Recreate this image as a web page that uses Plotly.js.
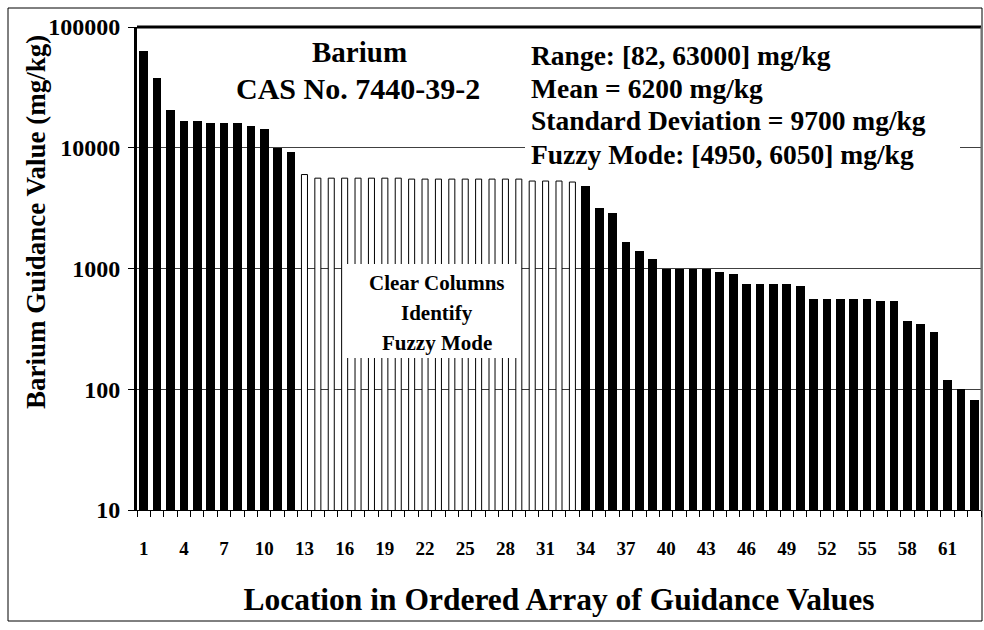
<!DOCTYPE html>
<html><head><meta charset="utf-8">
<script src="https://cdn.plot.ly/plotly-3.0.1.min.js"></script>
<style>html,body{margin:0;padding:0;background:#fff}#chart{width:984px;height:630px}</style>
</head><body><div id="chart"></div>
<script>
// ---- data ----
const locations = [1,2,3,4,5,6,7,8,9,10,11,12,13,14,15,16,17,18,19,20,21,22,23,24,25,26,27,28,29,30,31,32,33,34,35,36,37,38,39,40,41,42,43,44,45,46,47,48,49,50,51,52,53,54,55,56,57,58,59,60,61,62,63];
const guidanceValues = [63000,38000,20500,16500,16500,16000,16000,16000,15000,14400,10000,9300,
  6000,5600,5600,5600,5600,5600,5600,5600,5500,5500,5500,5500,5500,5500,5500,5500,5500,5300,5300,5300,5200,
  4800,3200,2900,1650,1400,1200,1000,1000,1000,1000,940,900,750,750,750,750,710,560,560,560,560,560,540,540,370,350,300,120,100,82];
const fuzzyModeLocations = [13,14,15,16,17,18,19,20,21,22,23,24,25,26,27,28,29,30,31,32,33];
const xTickVals = [1,4,7,10,13,16,19,22,25,28,31,34,37,40,43,46,49,52,55,58,61];
const xTickText = ['1','4','7','10','13','16','19','22','25','28','31','34','37','40','43','46','49','52','55','58','61'];
const yTickVals = [10,100,1000,10000,100000];
const yTickText = ['10','100','1000','10000','100000'];
const boundaryTicks = [0.5,1.5,2.5,3.5,4.5,5.5,6.5,7.5,8.5,9.5,10.5,11.5,12.5,13.5,14.5,15.5,16.5,17.5,18.5,19.5,20.5,21.5,22.5,23.5,24.5,25.5,26.5,27.5,28.5,29.5,30.5,31.5,32.5,33.5,34.5,35.5,36.5,37.5,38.5,39.5,40.5,41.5,42.5,43.5,44.5,45.5,46.5,47.5,48.5,49.5,50.5,51.5,52.5,53.5,54.5,55.5,56.5,57.5,58.5,59.5,60.5,61.5,62.5,63.5];
const statLines = ['Range: [82, 63000] mg/kg','Mean = 6200 mg/kg','Standard Deviation = 9700 mg/kg','Fuzzy Mode: [4950, 6050] mg/kg'];
const noteLines = ['Clear Columns','Identify','Fuzzy Mode'];

// ---- build ----
const FONT = 'Liberation Serif, Times New Roman, serif';
const W = 984, H = 630, L = 137, R = 3, T = 27, B = 120;
const pw = W - L - R, ph = H - T - B;
const px = x => (x - L) / pw;
const py = y => (H - B - y) / ph;

const solidX = [], solidY = [], clearX = [], clearY = [];
locations.forEach((loc, i) => {
  if (fuzzyModeLocations.includes(loc)) { clearX.push(loc); clearY.push(guidanceValues[i]); }
  else { solidX.push(loc); solidY.push(guidanceValues[i]); }
});

const traces = [
  {type:'bar', x:solidX, y:solidY, width:0.65, marker:{color:'#000', line:{width:0}}, hoverinfo:'x+y', showlegend:false},
  {type:'bar', x:clearX, y:clearY, width:0.45, marker:{color:'#fff', line:{color:'#000', width:1}}, hoverinfo:'x+y', showlegend:false},
  {type:'scatter', x:[0.5,63.5], y:[null,null], xaxis:'x2', yaxis:'y', showlegend:false, hoverinfo:'skip'}
];

const annotations = [];
annotations.push({xref:'paper', yref:'paper', x:px(359), y:py(52), text:'Barium', showarrow:false, xanchor:'center', yanchor:'middle', font:{family:FONT, size:29, color:'#000', weight:'bold'}});
annotations.push({xref:'paper', yref:'paper', x:px(358), y:py(88), text:'CAS No. 7440-39-2', showarrow:false, xanchor:'center', yanchor:'middle', font:{family:FONT, size:30, color:'#000', weight:'bold'}});
const statY = [55, 88, 121, 154];
statLines.forEach((t, i) => annotations.push({xref:'paper', yref:'paper', x:px(529), y:py(statY[i]), text:t, showarrow:false, xanchor:'left', yanchor:'middle', font:{family:FONT, size:27.5, color:'#000', weight:'bold'}}));
const noteY = [283, 313, 343];
noteLines.forEach((t, i) => annotations.push({xref:'paper', yref:'paper', x:px(437), y:py(noteY[i]), text:t, showarrow:false, xanchor:'center', yanchor:'middle', font:{family:FONT, size:21, color:'#000', weight:'bold'}}));
annotations.push({xref:'paper', yref:'paper', x:px(36), y:py(222), text:'Barium Guidance Value (mg/kg)', textangle:-90, showarrow:false, xanchor:'center', yanchor:'middle', font:{family:FONT, size:27, color:'#000', weight:'bold'}});

const shapes = [
  {type:'rect', xref:'paper', yref:'paper', x0:px(8), x1:px(982), y0:py(621), y1:py(8), line:{color:'#000', width:1}, fillcolor:'rgba(0,0,0,0)', layer:'below'},
  {type:'rect', xref:'paper', yref:'paper', x0:px(525), x1:px(960), y0:py(172), y1:py(33), line:{width:0}, fillcolor:'#fff', layer:'above'},
  {type:'rect', xref:'paper', yref:'paper', x0:px(347), x1:px(521), y0:py(358), y1:py(264), line:{width:0}, fillcolor:'#fff', layer:'above'},
  {type:'line', xref:'paper', yref:'paper', x0:0, x1:1, y0:1, y1:1, line:{color:'#000', width:3}, layer:'above'},
  {type:'line', xref:'paper', yref:'paper', x0:1, x1:1, y0:0, y1:1, line:{color:'#666', width:1}, layer:'above'}
];

const layout = {
  width:W, height:H, margin:{l:L, r:R, t:T, b:B}, paper_bgcolor:'#fff', plot_bgcolor:'#fff',
  bargap:0, showlegend:false,
  xaxis:{range:[0.5,63.5], tickvals:xTickVals, ticktext:xTickText, ticks:'', showgrid:false, zeroline:false,
    showline:true, linecolor:'#000', linewidth:1, ticklabelstandoff:21,
    tickfont:{family:FONT, size:19, color:'#000', weight:'bold'},
    title:{text:'Location in Ordered Array of Guidance Values', standoff:30, font:{family:FONT, size:31.5, color:'#000', weight:'bold'}}},
  xaxis2:{range:[0.5,63.5], overlaying:'x', anchor:'y', side:'bottom', tickvals:boundaryTicks, ticks:'outside', ticklen:6, tickwidth:1, tickcolor:'#000', showticklabels:false, showgrid:false, zeroline:false, showline:false},
  yaxis:{type:'log', range:[1,5], tickvals:yTickVals, ticktext:yTickText, ticks:'outside', ticklen:6, tickwidth:1, tickcolor:'#000',
    showline:true, linecolor:'#000', linewidth:3, showgrid:true, gridcolor:'#404040', gridwidth:1, zeroline:false, ticklabelstandoff:3,
    tickfont:{family:FONT, size:24, color:'#000', weight:'bold'}},
  shapes:shapes, annotations:annotations
};

Plotly.newPlot('chart', traces, layout, {staticPlot:true, displayModeBar:false});
</script></body></html>
